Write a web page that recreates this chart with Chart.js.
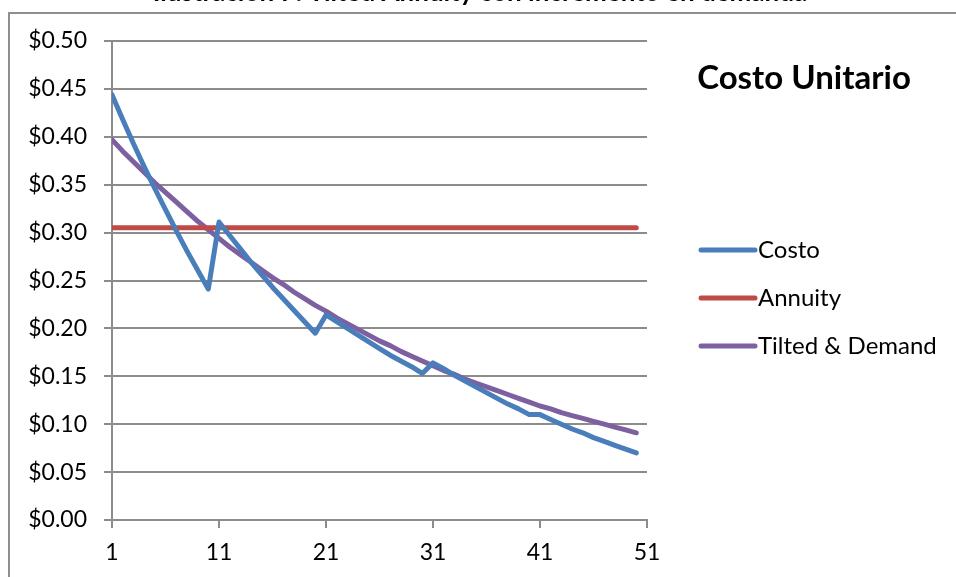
<!DOCTYPE html>
<html lang="es">
<head>
<meta charset="UTF-8">
<title>Costo Unitario</title>
<script src="https://cdn.jsdelivr.net/npm/chart.js"></script>
<style>
  html, body { margin: 0; padding: 0; background: #fff; overflow: hidden; }
  #wrap { position: relative; width: 956px; height: 577px; }
</style>
</head>
<body>
<div id="wrap"><canvas id="costChart" width="956" height="577"></canvas></div>
<script>
const periods = [1, 2, 3, 4, 5, 6, 7, 8, 9, 10,
  11, 12, 13, 14, 15, 16, 17, 18, 19, 20,
  21, 22, 23, 24, 25, 26, 27, 28, 29, 30,
  31, 32, 33, 34, 35, 36, 37, 38, 39, 40,
  41, 42, 43, 44, 45, 46, 47, 48, 49, 50];

const costo = [0.444, 0.418, 0.393, 0.369, 0.346, 0.324, 0.302, 0.281, 0.261, 0.241,
  0.311, 0.297, 0.283, 0.269, 0.256, 0.243, 0.231, 0.219, 0.207, 0.195,
  0.214, 0.207, 0.200, 0.193, 0.186, 0.179, 0.172, 0.166, 0.160, 0.153,
  0.164, 0.158, 0.151, 0.145, 0.139, 0.133, 0.127, 0.121, 0.116, 0.110,
  0.110, 0.105, 0.100, 0.095, 0.091, 0.086, 0.082, 0.078, 0.074, 0.070];

const annuity = [0.305, 0.305, 0.305, 0.305, 0.305, 0.305, 0.305, 0.305, 0.305, 0.305,
  0.305, 0.305, 0.305, 0.305, 0.305, 0.305, 0.305, 0.305, 0.305, 0.305,
  0.305, 0.305, 0.305, 0.305, 0.305, 0.305, 0.305, 0.305, 0.305, 0.305,
  0.305, 0.305, 0.305, 0.305, 0.305, 0.305, 0.305, 0.305, 0.305, 0.305,
  0.305, 0.305, 0.305, 0.305, 0.305, 0.305, 0.305, 0.305, 0.305, 0.305];

const tilted = [0.397, 0.385, 0.374, 0.363, 0.352, 0.342, 0.332, 0.322, 0.312, 0.303,
  0.294, 0.285, 0.277, 0.269, 0.261, 0.253, 0.246, 0.238, 0.231, 0.224,
  0.218, 0.211, 0.205, 0.199, 0.193, 0.187, 0.182, 0.176, 0.171, 0.166,
  0.161, 0.156, 0.152, 0.147, 0.143, 0.139, 0.135, 0.131, 0.127, 0.123,
  0.119, 0.116, 0.112, 0.109, 0.106, 0.103, 0.100, 0.097, 0.094, 0.091];

const xTicks = [1, 11, 21, 31, 41, 51];
const seriesNames = ['Costo', 'Annuity', 'Tilted & Demand'];
const seriesColors = ['#4a7ebb', '#be4b48', '#7d60a0'];
const chartTitle = 'Costo Unitario';
const caption = 'Ilustración 7: Tilted Annuity con incremento en demanda';

const FONT = 'Lato, "Liberation Sans", sans-serif';
const GRID = '#8c8c8c';

function points(values) {
  return values.map((v, i) => ({ x: periods[i], y: v }));
}

// frame, clipped caption, title and legend drawn around the plot
const decor = {
  id: 'decor',
  beforeDraw(chart) {
    const ctx = chart.ctx;
    ctx.save();
    ctx.strokeStyle = '#8e8e8e';
    ctx.lineWidth = 2;
    ctx.beginPath();
    ctx.moveTo(9, 600);
    ctx.lineTo(9, 13);
    ctx.lineTo(960, 13);
    ctx.stroke();
    ctx.restore();
  },
  afterDraw(chart) {
    const ctx = chart.ctx;
    ctx.save();
    ctx.fillStyle = '#000';
    ctx.textAlign = 'center';
    ctx.textBaseline = 'alphabetic';
    ctx.font = 'bold 26px ' + FONT;
    ctx.fillText(caption, 480, 1);

    ctx.font = 'bold 33px ' + FONT;
    ctx.fillText(chartTitle, 804, 89);

    ctx.textAlign = 'left';
    ctx.textBaseline = 'middle';
    ctx.font = '24px ' + FONT;
    ctx.lineWidth = 5;
    ctx.lineCap = 'round';
    chart.data.datasets.forEach((ds, i) => {
      const y = 250 + i * 48;
      ctx.strokeStyle = ds.borderColor;
      ctx.beginPath();
      ctx.moveTo(701, y);
      ctx.lineTo(755, y);
      ctx.stroke();
      ctx.fillStyle = '#000';
      ctx.fillText(ds.label, 758, y);
    });
    ctx.restore();
  }
};

const datasets = [costo, annuity, tilted].map((vals, i) => ({
  label: seriesNames[i],
  data: points(vals),
  borderColor: seriesColors[i],
  backgroundColor: seriesColors[i],
  borderWidth: 5,
  pointRadius: 0,
  tension: 0,
  borderJoinStyle: 'round',
  borderCapStyle: 'round'
}));

new Chart(document.getElementById('costChart'), {
  type: 'line',
  data: { datasets },
  plugins: [decor],
  options: {
    responsive: false,
    animation: false,
    layout: { padding: { top: 41, right: 309, bottom: 0, left: 0 } },
    plugins: {
      legend: { display: false },
      title: { display: false },
      tooltip: { enabled: false }
    },
    scales: {
      x: {
        type: 'linear',
        min: 1,
        max: 51,
        afterBuildTicks(scale) {
          scale.ticks = xTicks.map(v => ({ value: v }));
        },
        afterFit(scale) { scale.height = 57; },
        grid: {
          drawOnChartArea: false,
          drawTicks: true,
          tickLength: 8,
          color: GRID,
          lineWidth: 2
        },
        border: { color: GRID, width: 2 },
        ticks: {
          autoSkip: false,
          maxRotation: 0,
          padding: 11,
          color: '#000',
          font: { family: FONT, size: 23 },
          callback: v => String(v)
        }
      },
      y: {
        min: 0,
        max: 0.5,
        afterFit(scale) { scale.width = 112; },
        ticks: {
          stepSize: 0.05,
          padding: 17,
          color: '#000',
          font: { family: FONT, size: 23 },
          callback: v => '$' + Number(v).toFixed(2)
        },
        grid: {
          color: GRID,
          lineWidth: 2,
          tickLength: 8
        },
        border: { color: GRID, width: 2 }
      }
    }
  }
});
</script>
</body>
</html>
